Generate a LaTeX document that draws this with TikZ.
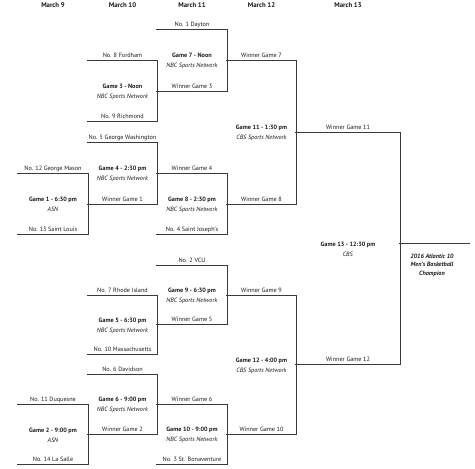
\documentclass[tikz,border=0pt]{standalone}
\usepackage{fontspec}
\setmainfont{PT Sans}
\usetikzlibrary{calc}
\definecolor{bkline}{HTML}{3A3A3A}
\definecolor{bktext}{HTML}{1A1A1A}

\tikzset{
  slot/.style={anchor=south, minimum width=#1, inner xsep=0pt, inner ysep=1pt,
               text height=4.6pt, text depth=1.3pt},
  head/.style={font=\fontsize{6.8}{8}\selectfont\bfseries},
  game/.style={align=center, font=\fontsize{6.2}{10}\selectfont, inner sep=0pt},
  champtext/.style={align=center, inner sep=0pt,
                    font=\fontsize{6.2}{8.5}\selectfont\bfseries\itshape},
  bline/.style={bkline, line width=0.9pt, line cap=rect},
}

\begin{document}
\begin{tikzpicture}[
    x=1pt, y=-1pt,
    every node/.style={text=bktext, font=\fontsize{6.2}{7}\selectfont},
  ]

  % ══════════════════════════════════════════════════════
  % Canvas (475 x 469, y runs downwards)
  % ══════════════════════════════════════════════════════
  \useasboundingbox (0,0) rectangle (475,469);

  % ══════════════════════════════════════════════════════
  % Day headers
  % ══════════════════════════════════════════════════════
  \foreach \x/\t [count=\i] in {53/March 9, 122.5/March 10, 192/March 11,
                                261.5/March 12, 348/March 13}{
    \node[head] (day\i) at (\x,5) {\t};
  }

  % ══════════════════════════════════════════════════════
  % Bracket slots: label sitting on its line
  % ══════════════════════════════════════════════════════
  \foreach \n/\x/\y/\w/\t in {
      mason/53/173/70/No. 12 George Mason,
      stlouis/53/234/70/No. 13 Saint Louis,
      duq/53/404/70/No. 11 Duquesne,
      lasalle/53/464/70/No. 14 La Salle,
      fordham/122.5/60/69/No. 8 Fordham,
      richmond/122.5/121/69/No. 9 Richmond,
      gw/122.5/142/69/No. 5 George Washington,
      wg1/122.5/204/69/Winner Game 1,
      rhode/122.5/295/69/No. 7 Rhode Island,
      umass/122.5/354/69/No. 10 Massachusetts,
      davidson/122.5/374/69/No. 6 Davidson,
      wg2/122.5/434/69/Winner Game 2,
      dayton/192/29/70/No. 1 Dayton,
      wg3/192/91/70/Winner Game 3,
      wg4/192/173/70/Winner Game 4,
      sju/192/234/70/No. 4 Saint Joseph's,
      vcu/192/265/70/No. 2 VCU,
      wg5/192/324/70/Winner Game 5,
      wg6/192/404/70/Winner Game 6,
      bona/192/464/70/No. 3 St. Bonaventure,
      wg7/261.5/60/69/Winner Game 7,
      wg8/261.5/204/69/Winner Game 8,
      wg9/261.5/295/69/Winner Game 9,
      wg10/261.5/434/69/Winner Game 10,
      wg11/348/132/104/Winner Game 11,
      wg12/348/364/104/Winner Game 12,
      champ/434.5/243/69/{}}{
    \node[slot=\w] (\n) at (\x,\y) {\t};
    \draw[bline] (\n.south west) -- (\n.south east);
  }

  % ══════════════════════════════════════════════════════
  % Games: joining line and time / network
  % ══════════════════════════════════════════════════════
  \foreach \g/\a/\b/\t/\tv in {
      g1/mason/stlouis/Game 1 - 6:30 pm/ASN,
      g2/duq/lasalle/Game 2 - 9:00 pm/ASN,
      g3/fordham/richmond/Game 3 - Noon/NBC Sports Network,
      g4/gw/wg1/Game 4 - 2:30 pm/NBC Sports Network,
      g5/rhode/umass/Game 5 - 6:30 pm/NBC Sports Network,
      g6/davidson/wg2/Game 6 - 9:00 pm/NBC Sports Network,
      g7/dayton/wg3/Game 7 - Noon/NBC Sports Network,
      g8/wg4/sju/Game 8 - 2:30 pm/NBC Sports Network,
      g9/vcu/wg5/Game 9 - 6:30 pm/NBC Sports Network,
      g10/wg6/bona/Game 10 - 9:00 pm/NBC Sports Network,
      g11/wg7/wg8/Game 11 - 1:30 pm/CBS Sports Network,
      g12/wg9/wg10/Game 12 - 4:00 pm/CBS Sports Network,
      g13/wg11/wg12/Game 13 - 12:30 pm/CBS}{
    \draw[bline] (\a.south east) -- (\b.south east);
    \node[game, yshift=-1pt] (\g) at ($(\a.south)!0.5!(\b.south)$)
      {\textbf{\t}\\\textit{\tv}};
  }

  % ══════════════════════════════════════════════════════
  % Champion
  % ══════════════════════════════════════════════════════
  \node[champtext] (title) at ($(champ.south)+(-2.5,22)$)
    {2016 Atlantic 10\\Men's Basketball\\Champion};

\end{tikzpicture}
\end{document}
